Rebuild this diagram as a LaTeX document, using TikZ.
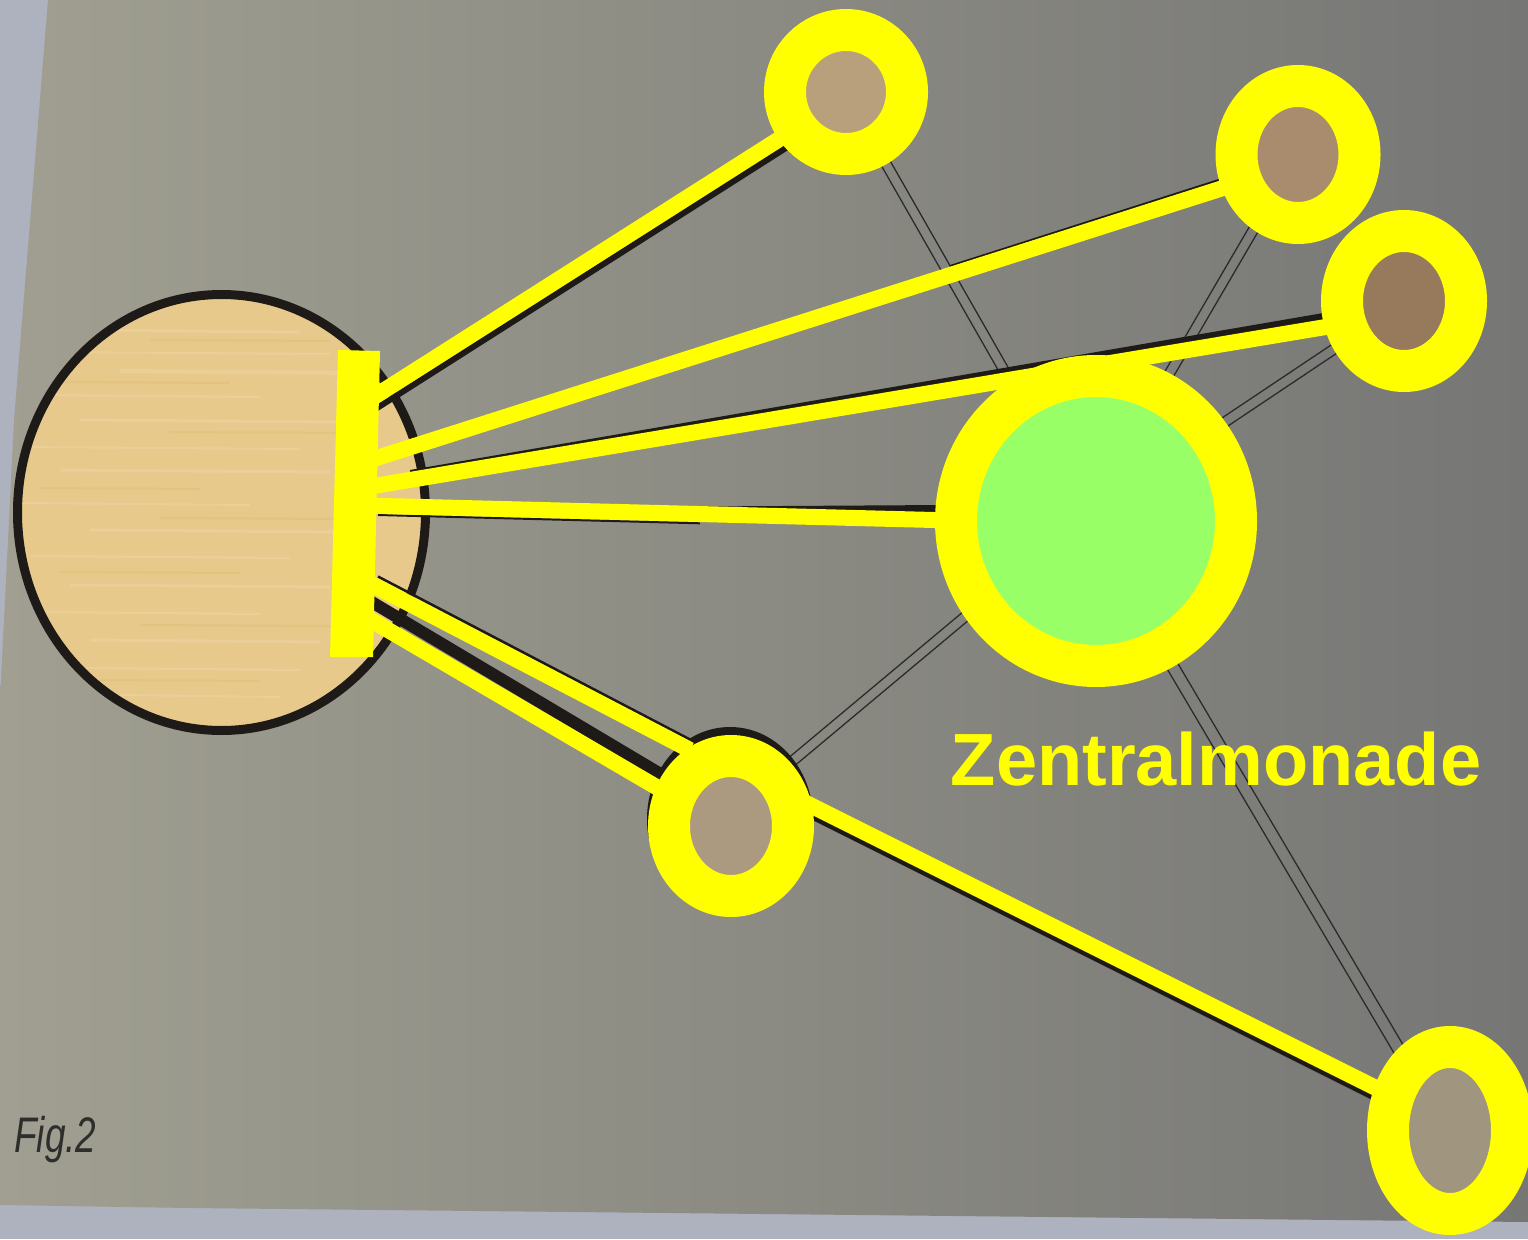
\documentclass[tikz,border=0pt]{standalone}
\usepackage{fontspec}
\newfontfamily\zfont{Liberation Sans}
\usetikzlibrary{shapes.geometric,calc}
\definecolor{paperL}{HTML}{A09F91}
\definecolor{paperR}{HTML}{767675}
\definecolor{backg}{HTML}{AEB1BE}
\definecolor{ylw}{HTML}{FFFF00}
\definecolor{grn}{HTML}{99FF66}
\definecolor{ink}{HTML}{1E1A18}
\definecolor{thinink}{HTML}{2B2B2B}
\definecolor{sunfill}{HTML}{E7C98C}
\definecolor{sunlight}{HTML}{F0DDB4}
\definecolor{sunorange}{HTML}{E2A448}
\definecolor{cfA}{HTML}{B8A07C}
\definecolor{cfB}{HTML}{A88C6D}
\definecolor{cfC}{HTML}{977A5C}
\definecolor{cfD}{HTML}{AC9A80}
\definecolor{cfE}{HTML}{A0957F}
\definecolor{figink}{HTML}{2E2E2C}
\begin{document}
\begin{tikzpicture}[x=1pt,y=-1pt,
  ring/.style={ellipse, draw=ylw, line width=42pt, inner sep=0pt, outer sep=0pt},
  ybeam/.style={draw=ylw, line width=16pt},
  shadowline/.style={draw=ink},
  thinline/.style={draw=thinink, line width=1.3pt}]
\useasboundingbox (0,0) rectangle (1528,1239);
% background and paper sheet
\fill[backg] (0,0) rectangle (1528,1239);
\shade[left color=paperL, right color=paperR]
  (48,0) -- (1528,0) -- (1528,1222) -- (190,1208) -- (0,1205) -- (0,700) -- (14,420) -- cycle;

% large body
\node[ellipse, draw=ink, line width=9pt, fill=sunfill, inner sep=0pt,
      minimum width=408pt, minimum height=436pt] (sun) at (221.5,512.5) {};
\begin{scope}
  \clip (221.5,512.5) ellipse (199 and 213);
  \foreach \yy/\xa/\xb/\w in {330/60/300/3, 352/40/330/2, 371/120/360/4, 395/30/260/2,
      420/80/340/3, 447/20/300/2, 470/60/330/3, 503/20/250/2, 530/90/340/3,
      556/30/290/2, 585/70/330/3, 612/40/260/2, 640/90/320/3, 668/80/300/2, 695/120/280/2}
    \draw[sunlight, opacity=0.35, line width=\w pt] (\xa,\yy) -- (\xb,\yy+2);
  \foreach \yy/\xa/\xb in {340/150/330, 382/60/230, 432/170/350, 488/40/200, 518/160/340,
      572/60/240, 625/140/330, 680/100/260}
    \draw[sunorange, opacity=0.18, line width=2pt] (\xa,\yy) -- (\xb,\yy+1);
\end{scope}

% named coordinates
\coordinate (t1a) at (877,148);  \coordinate (t1b) at (1013,386);
\coordinate (t2a) at (1262,215); \coordinate (t2b) at (1161,388);
\coordinate (t3a) at (1349,339); \coordinate (t3b) at (1210,432);
\coordinate (t4a) at (777,774);  \coordinate (t4b) at (979,605);
\coordinate (t5a) at (1160,645); \coordinate (t5b) at (1408,1065);

\coordinate (a0) at (360,405.7);  \coordinate (a1) at (805,122.7);
\coordinate (b0) at (360,463.3);  \coordinate (b1) at (1230,185.8);
\coordinate (c0) at (360,488.3);  \coordinate (c1) at (1340,324.6);
\coordinate (d0) at (360,505.4);  \coordinate (d1) at (950,520.4);
\coordinate (e0) at (360,578);    \coordinate (e1) at (690,750);
\coordinate (f0) at (360,613.6);  \coordinate (f1) at (668,793.8);
\coordinate (g0) at (790,795);    \coordinate (g1) at (1390,1095);

\coordinate (as0) at (366,415);   \coordinate (as1) at (811,132);
\coordinate (bs0) at (950,266);   \coordinate (bs1) at (1225,178);
\coordinate (ds0) at (378,515);   \coordinate (ds1) at (700,523.3);
\coordinate (es0) at (378,576.5); \coordinate (es1) at (690,739.5);
\coordinate (ef0) at (370,601);   \coordinate (ef1) at (664,776);
\coordinate (gs0) at (790,806);   \coordinate (gs1) at (1390,1106);

% thin double construction lines
\foreach \p/\q/\h in {t1a/t1b/5pt, t2a/t2b/5pt, t3a/t3b/5pt, t4a/t4b/5pt, t5a/t5b/6pt}{
  \draw[thinline] ($(\p)!\h!90:(\q)$) -- ($(\q)!\h!-90:(\p)$);
  \draw[thinline] ($(\p)!\h!-90:(\q)$) -- ($(\q)!\h!90:(\p)$);
}

% black shadows of the original lines
\draw[shadowline, line width=6pt] (as0) -- (as1);
\draw[shadowline, line width=2pt] (bs0) -- (bs1);
\fill[ink] (410,470) -- (1335,311) -- (1335,322) -- (410,477) -- cycle;
\fill[ink] (700,506.5) -- (945,505) -- (945,515) -- (700,508.5) -- cycle;
\draw[shadowline, line width=2pt] (ds0) -- (ds1);
\draw[shadowline, line width=2.5pt] (es0) -- (es1);
\draw[shadowline, line width=12pt] (ef0) -- (ef1);
\draw[shadowline, line width=5pt] (gs0) -- (gs1);
\fill[ink] (730,819) ellipse (83 and 92);

% yellow beams
\draw[ybeam] (a0) -- (a1);
\draw[ybeam] (b0) -- (b1);
\draw[ybeam] (c0) -- (c1);
\draw[ybeam] (d0) -- (d1);
\draw[ybeam] (e0) -- (e1);
\draw[ybeam] (f0) -- (f1);
\draw[ybeam] (g0) -- (g1);

% monads
\node[ring, fill=cfA, minimum width=122pt, minimum height=124pt] (m1) at (846,92) {};
\node[ring, fill=cfB, minimum width=123pt, minimum height=137pt] (m2) at (1298,154.5) {};
\node[ring, fill=cfC, minimum width=124pt, minimum height=140pt] (m3) at (1404,301) {};
\node[ring, fill=cfD, minimum width=124pt, minimum height=140pt] (m4) at (731,826) {};
\node[ring, fill=cfE, minimum width=124pt, minimum height=167pt] (m5) at (1450,1130.5) {};
\node[ring, fill=grn, minimum width=280pt, minimum height=290pt] (zm) at (1096,521) {};

% yellow bar
\fill[ylw] (338,350) -- (380,351) -- (373,657) -- (330,657) -- cycle;

% labels
\node[anchor=base, inner sep=0pt, text=ylw,
      font=\zfont\bfseries\fontsize{74}{80}\selectfont] (zlabel) at (1216,785) {Zentralmonade};
\node[anchor=base west, inner sep=0pt, text=figink,
      font=\zfont\itshape\fontsize{50}{60}\selectfont] (fig) at (14,1152) {\scalebox{0.74}[1]{Fig.2}};
\end{tikzpicture}
\end{document}
